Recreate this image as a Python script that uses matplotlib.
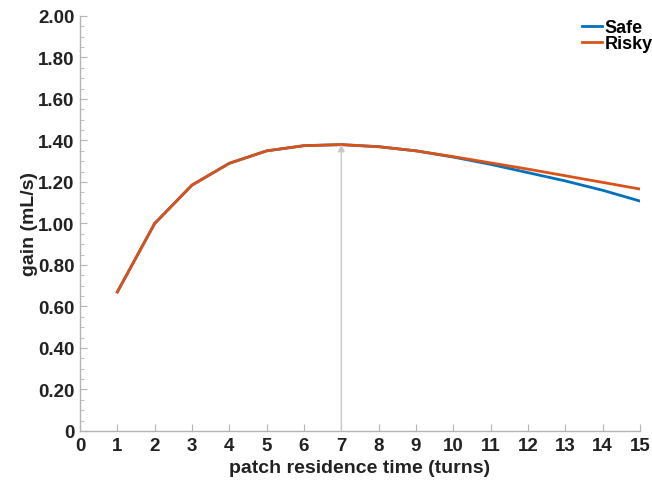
import matplotlib
matplotlib.use("Agg")
import matplotlib.pyplot as plt
from matplotlib.ticker import MultipleLocator, FuncFormatter

# residence time in turns
turns = [1, 2, 3, 4, 5, 6, 7, 8, 9, 10, 11, 12, 13, 14, 15]
# gain in mL/s
safe = [0.67, 1.00, 1.185, 1.29, 1.35, 1.375, 1.38, 1.37, 1.35, 1.32, 1.285, 1.245, 1.205, 1.16, 1.108]
risky = [0.67, 1.00, 1.185, 1.29, 1.35, 1.375, 1.38, 1.37, 1.35, 1.322, 1.292, 1.262, 1.23, 1.198, 1.166]
peak_turn = 7
peak_gain = 1.38

plt.rcParams['font.family'] = ['Liberation Sans', 'DejaVu Sans']
plt.rcParams['font.weight'] = 'bold'

fig = plt.figure(figsize=(6.52, 4.85), dpi=100)
ax = fig.add_axes([0.1227, 0.1093, 0.8589, 0.8557])

ax.plot(turns, safe, color='#0072BD', lw=2, label='Safe')
ax.plot(turns, risky, color='#D95319', lw=2, label='Risky')

# optimal residence time marker
ax.annotate('', xy=(peak_turn, peak_gain), xytext=(peak_turn, 0),
            arrowprops=dict(arrowstyle='-|>', color='#c8c8c8', lw=1,
                            mutation_scale=10, shrinkA=0, shrinkB=0))

ax.set_xlim(0, 15)
ax.set_ylim(0, 2)
ax.xaxis.set_major_locator(MultipleLocator(1))
ax.yaxis.set_major_locator(MultipleLocator(0.2))
ax.yaxis.set_minor_locator(MultipleLocator(0.05))
ax.yaxis.set_major_formatter(FuncFormatter(lambda v, p: '0' if abs(v) < 1e-9 else f'{v:.2f}'))

for s in ['top', 'right']:
    ax.spines[s].set_visible(False)
for s in ['left', 'bottom']:
    ax.spines[s].set_color('#b4b4b4')
    ax.spines[s].set_linewidth(1)

ax.tick_params(axis='both', which='major', direction='in', length=5, color='#b4b4b4',
               labelsize=13.5, labelcolor='#222222', pad=4)
ax.tick_params(axis='y', which='minor', direction='in', length=3, color='#b4b4b4')

ax.set_xlabel('patch residence time (turns)', fontsize=14, fontweight='bold',
              color='#222222', labelpad=4)
ax.set_ylabel('gain (mL/s)', fontsize=14, fontweight='bold', color='#222222')
ax.yaxis.set_label_coords(-0.075, 0.5)

leg = ax.legend(loc='upper right', frameon=False, fontsize=13, handlelength=1.1,
                handletextpad=0.15, labelspacing=-0.05, borderaxespad=0.0,
                bbox_to_anchor=(1.035, 1.01))
for t in leg.get_texts():
    t.set_fontweight('bold')

fig.savefig('out.png', dpi=100)
